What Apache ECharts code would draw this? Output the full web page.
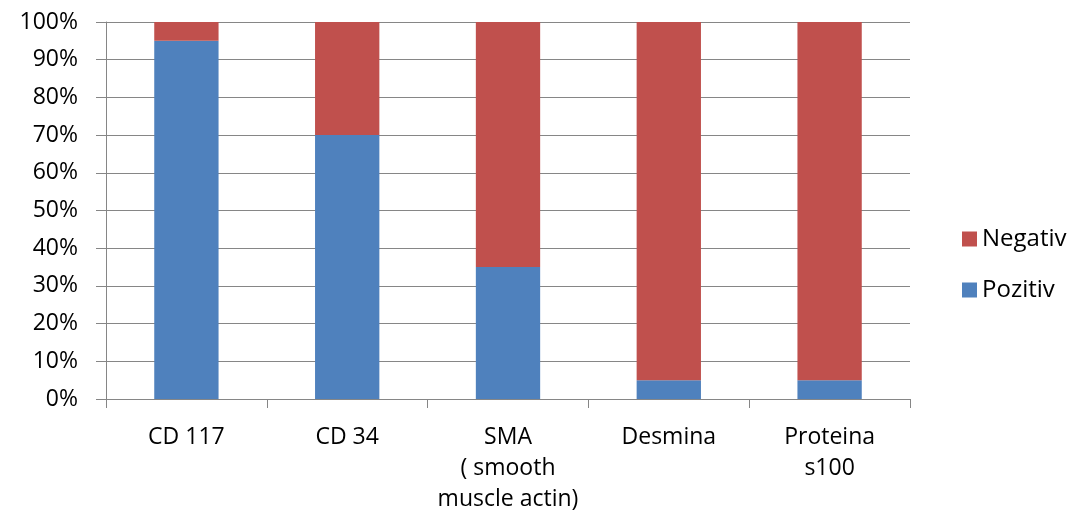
<!DOCTYPE html>
<html><head><meta charset="utf-8">
<script src="https://cdn.jsdelivr.net/npm/echarts@6/dist/echarts.min.js"></script>
<style>html,body{margin:0;padding:0;background:#fff}#c{width:1076px;height:515px}</style>
</head><body><div id="c"></div>
<script>
const categories = ['CD 117', 'CD 34', 'SMA\n( smooth\nmuscle actin)', 'Desmina', 'Proteina\ns100'];
const pozitiv = [95, 70, 35, 5, 5];
const negativ = [5, 30, 65, 95, 95];
const yTicks = [0, 10, 20, 30, 40, 50, 60, 70, 80, 90, 100];

const chart = echarts.init(document.getElementById('c'), null, {renderer: 'canvas'});
const font = '"Open Sans", "Liberation Sans", sans-serif';
chart.setOption({
  animation: false,
  textStyle: {fontFamily: font},
  grid: {left: 106, right: 166, top: 22, bottom: 116, containLabel: false},
  legend: {
    data: ['Negativ', 'Pozitiv'],
    orient: 'vertical',
    left: 957, top: 222,
    itemWidth: 15, itemHeight: 15, itemGap: 27,
    icon: 'rect',
    textStyle: {fontSize: 24, color: '#000', fontFamily: font}
  },
  xAxis: {
    type: 'category',
    data: categories,
    axisLine: {lineStyle: {color: '#868686', width: 1}},
    axisTick: {show: true, length: 9, lineStyle: {color: '#868686'}},
    axisLabel: {fontSize: 23, color: '#000', margin: 23, lineHeight: 31, interval: 0, fontFamily: font}
  },
  yAxis: {
    type: 'value',
    min: 0, max: 100, interval: 10,
    axisLine: {show: true, lineStyle: {color: '#868686', width: 1}},
    axisTick: {show: true, length: 10, lineStyle: {color: '#868686'}},
    splitLine: {lineStyle: {color: '#868686', width: 1}},
    axisLabel: {fontSize: 23, color: '#000', margin: 28, formatter: v => yTicks.includes(v) ? v + '%' : '', fontFamily: font}
  },
  series: [
    {name: 'Pozitiv', type: 'bar', stack: 't', data: pozitiv, barWidth: '40%', itemStyle: {color: '#4F81BD'}},
    {name: 'Negativ', type: 'bar', stack: 't', data: negativ, barWidth: '40%', itemStyle: {color: '#C0504D'}}
  ]
});
</script></body></html>
